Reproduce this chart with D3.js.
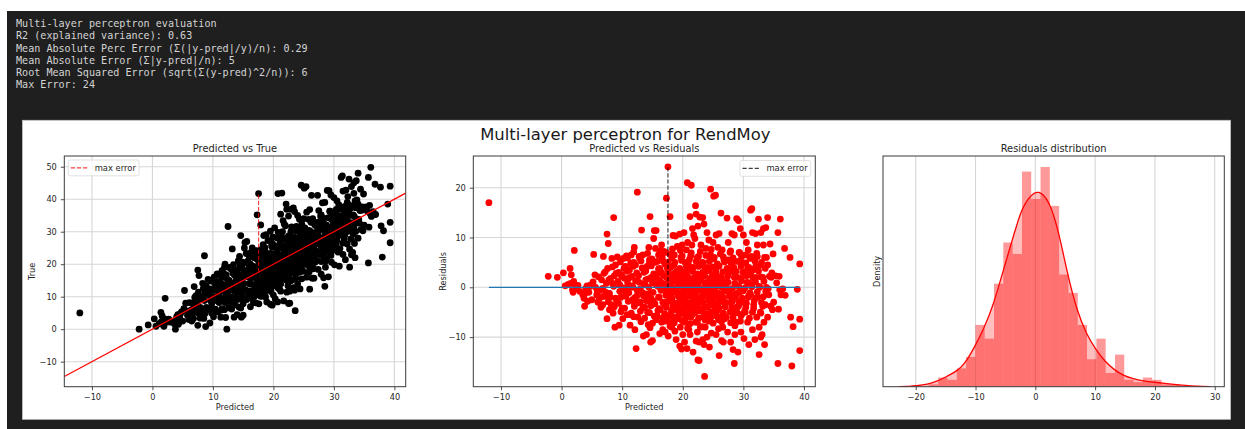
<!DOCTYPE html>
<html>
<head>
<meta charset="utf-8">
<script src="https://cdn.jsdelivr.net/npm/d3@7"></script>
<style>
  body { margin: 0; background: #ffffff; }
  svg { display: block; }
</style>
</head>
<body>
<svg id="fig" width="1245" height="429"></svg>
<script>
// ---- evaluation report printed above the figure ----
const reportLines = [
  "Multi-layer perceptron evaluation",
  "R2 (explained variance): 0.63",
  "Mean Absolute Perc Error (Σ(|y-pred|/y)/n): 0.29",
  "Mean Absolute Error (Σ|y-pred|/n): 5",
  "Root Mean Squared Error (sqrt(Σ(y-pred)^2/n)): 6",
  "Max Error: 24"
];

const figureTitle = "Multi-layer perceptron for RendMoy";
const panelTitles = ["Predicted vs True", "Predicted vs Residuals", "Residuals distribution"];

// ---- test-set predictions: [predicted, residual (true - predicted)] ----
const predResid = [
  [-12,17],[-2.2,2.2],[-0.7,2],[0.3,2.9],[0.6,0.3],[1.1,0.6],
  [1.4,3.8],[1.6,2.5],[1.5,0.8],[1.8,-0.5],[2,1.2],[2.1,7.4],[2.3,0.2],[2.5,-0.3],[2.7,0.4],[3,-0.8],[1.9,-1],
  [3.5,-1.5],[3.7,-2.2],[3.8,-3.8],[4,-0.2],[4.2,0.3],[4.5,-1],[4.8,0.5],[5,-2.5],[4.3,-2.8],[3.9,-1.2],
  [5.3,6.6],[5.5,2.5],[5.6,0],[5.8,-1.5],[6,-3],[6.2,-2.3],[6.4,-0.5],[6.6,1.5],[6.8,-3.5],[6.9,6.2],[7,2.8],[7.1,-1.8],[6.5,-4],
  [7.5,10.7],[7.7,8.8],[7.5,-6.3],[7.6,3.8],[7.8,1.5],[8,-2],[8.2,-3.5],[8.4,0.8],[8.6,14],[8.8,-8],[8.5,-5.2],[8.9,4.5],[7.3,-1],[8.3,5.8],[8.7,2.3],[7.9,-4.5],
  [9.5,-7.6],[9.2,6.1],[9.4,3],[9.6,0.5],[9.8,-2],[10,-4.2],[10.2,5.8],[10.4,1.8],[10.6,-1.2],[10.8,-5.5],[9.1,-3],[10.1,-6.3],[10.5,4.2],[9.9,2.5],[11,-0.3],[10.7,6.3],
  [12.5,19.1],[12,8],[11.5,6.5],[11.3,-7.6],[11.4,-5.5],[11.6,2.2],[11.8,0],[12,-3.5],[12.2,4.5],[12.4,-1.8],[12.3,-12.3],[12.6,-6],[12.8,1],[11.2,3.5],[11.7,-2.5],[12.9,5.8],[12.1,-8.5],[13,-3],[11.9,5],
  [13.2,11.5],[14.6,14.2],[13.5,-9.8],[13.4,6.5],[13.6,3],[13.8,0.5],[14,-2.2],[14.2,-5],[14.4,8],[13.3,-1],[14.1,4.2],[14.3,-7.5],[14.7,-11],[14.8,2],[14,-9.5],[13.7,-4],[14.9,-3.5],[14.5,5.5],[13.9,1.5],[14.6,-1.2],
  [15,-10.7],[15.3,11.4],[15.6,11.4],[15.2,9.8],[15.5,7.8],[15.4,5],[15.7,2.5],[15.9,0.2],[16.1,-2],[16.3,-4.5],[16.5,-7],[16.7,-8.5],[15.8,-5.8],[16,6.5],[16.2,3.8],[16.4,1],[16.6,-0.5],[16.8,5.2],[16.9,-3.3],[15.1,-2.8],[15.3,0.8],[16.5,8.5],[16.2,-9.3],[15.6,-6.5],[16.9,7.2],[17,0.5],
  [17.3,17.9],[17.55,24.2],[17.9,14.2],[17.2,7],[17.5,5],[17.7,2.5],[17.9,0.2],[18.1,-2.2],[18.3,-4.5],[18.5,-6.8],[18.7,-8.8],[18.9,-10.5],[17.4,-3],[17.6,-0.8],[17.8,-5.8],[18,4],[18.2,1.5],[18.4,-1],[18.6,6.5],[18.8,10.3],[18.4,10.4],[19,3.2],[19.2,-3.5],[17.1,-9],[17.6,-9.8],[18.2,-8],[18.6,-0.2],[18.9,-6],[19.1,8.2],[17.5,-6.8],[18.3,7.7],[19.2,0.8],[17.3,2],
  [19.8,-12.4],[20.7,-12.3],[19.5,-11.8],[20,-9.5],[20.4,-7],[19.4,-5.5],[19.6,-3],[19.8,-1],[20,1],[20.2,3],[20.4,5],[20.6,7.5],[20.8,9],[19.5,10.7],[20.2,11],[20.75,21],[19.7,6],[20.1,-4.8],[20.5,-2],[20.9,-0.2],[19.3,2],[20.3,-11],[21,4],[20.6,-5.5],[19.9,8.5],[19.6,-8],[21,-8.5],[20.8,1.8],[20,-2.5],[19.2,-1.5],[20.4,0],
  [21.4,20.5],[21.2,14.2],[22.1,16.4],[22.2,14.7],[22.8,14.1],[22.5,12.3],[21.8,10.5],[21.5,8.5],[22,9.8],[21.3,6.3],[21.7,4],[22.3,2.5],[22.6,6.2],[22.9,4.5],[21.1,1],[21.4,-1],[21.6,-3],[21.9,-5],[22.1,-7],[22.4,-9],[22.7,-11],[21.7,-13],[22.5,-14.6],[22.7,-14.7],[21.2,-9.5],[22,-1.5],[22.3,0.5],[22.8,-2.5],[22.5,-4.5],[21.3,-6],[22.9,-8],[21.9,2],[22.6,-0.5],[21,-3.8],[22.2,-10.8],[23,1.5],[21.6,11.8],
  [23.6,-17.9],[24.6,19.7],[23.3,14],[23.5,12.7],[24,11],[24.3,9.5],[23.8,7.8],[23.2,5],[23.5,3],[23.9,1],[24.2,-1],[24.5,-3],[24.8,-5],[23.4,-6],[23.7,-8],[24,-10],[24.4,-12],[24.7,-9.2],[23.1,-2],[23.6,-4],[24.9,2.5],[24.6,6.5],[23.3,-10.5],[24.2,4],[24.8,-0.5],[23,8.5],[25,9],[24.3,-6.8],[23.8,-1.5],[23.5,-11.5],
  [25.1,18.3],[25.4,18.5],[26.3,14.9],[25.5,10.5],[26,10.8],[25.8,8],[25.2,6],[25.6,4],[26.1,2],[26.5,0],[25.3,-2],[25.7,-4],[26.2,-6],[26.6,-8],[26,-13.7],[26.4,-10.7],[25.5,-9.5],[26.8,5.5],[26.9,-3],[25,1],[26.3,-1.5],[25.9,-6.5],[26.7,-11],[26.5,7.5],[25.4,3.2],[26.9,1],
  [27.3,13.9],[28.9,13.8],[28.1,10.8],[28.5,10.5],[27.5,9],[27.8,7],[28.2,5],[28.6,3],[27.2,1],[27.6,-1],[28,-3],[28.4,-5],[28.8,-7],[27.4,-9],[27.9,-11],[28.3,-12.5],[28.5,-15.3],[27.2,-6],[28.7,0.5],[28.1,-1.5],[27.7,3.5],[28.9,-4],[27,-3.5],[28.6,-9.5],[27.5,5.5],
  [29.2,13.4],[29.5,11.8],[30,10.5],[30.5,9],[29.3,7],[29.8,5],[30.2,3],[30.6,1],[29.4,-1],[29.9,-3],[30.3,-5],[30.7,-7],[29.6,-9],[30.1,-10.3],[29.1,-13],[30.9,4],[29,2],[30.8,-2],[29.7,-5.5],[30.4,6.5],[30.9,-11.5],[29.3,0],
  [31.2,15.5],[31.4,15.8],[32.5,13.7],[31.5,11],[32,10.8],[32.3,8.5],[31.3,6.2],[31.8,6],[32.3,6.2],[31.6,3.5],[32.1,2],[32.7,0],[31.2,-1.5],[31.7,-3.5],[32.2,-6],[32.6,-8],[32.9,-10],[32.6,-13.5],[31.5,-8.5],[31.1,2.5],[32.4,-2],[32.8,-5],[31.9,-10.5],[32.8,4.5],[31.4,0.5],
  [33.3,11.8],[33.7,12],[32.9,11],[34,14],[33.3,8.5],[34.4,8.7],[33.5,6],[34,4.5],[34.3,2.2],[33.2,2],[33.8,0],[34.2,-1.5],[33.6,-3.5],[34.5,-3.8],[34,-6],[33.4,-7],[34.8,-4.5],[33.1,-9.5],[34.6,2],[33.9,-1.2],[34.9,6.7],[33.5,-11.5],
  [35.7,11],[36.1,13.7],[36.8,7.8],[35.3,2.3],[35.5,0.9],[35.8,-4.4],[36.2,-1.5],[36.5,-0.3],[36.9,-1.6],[35.7,-15.3],[35,-3],[36,-0.5],
  [37.7,6],[39.3,4.7],[38.9,-0.4],[37.8,-6],[38.2,-7.9],[39.3,-6.4],[39.3,-12.7],[38,-15.8],
  // dense core of the cloud
  [11.9,7.1],[14.2,6.8],[16.3,7.3],[17.9,6.6],[19.6,7.4],[21.4,6.9],[22.9,7.2],[24.7,7.6],[26.2,6.7],[27.9,7.3],[29.4,6.9],[30.8,7.5],[32.2,6.8],
  [10.9,5.9],[12.8,6.2],[14.9,5.7],[16.6,6.1],[18.2,5.8],[19.9,6.3],[21.1,5.6],[22.4,6.0],[23.8,6.4],[25.1,5.7],[26.7,6.1],[28.3,5.9],[29.7,6.2],[31.1,5.8],[33.8,6.0],
  [9.7,5.1],[11.4,4.8],[13.1,5.3],[14.5,4.9],[15.8,5.2],[17.1,4.7],[18.7,5.0],[19.8,5.4],[20.9,4.8],[22.2,5.2],[23.4,4.9],[24.4,5.3],[25.7,4.7],[26.9,5.1],[28.0,4.8],[29.1,5.2],[30.4,4.9],[31.9,5.3],[33.0,5.0],
  [8.4,4.1],[10.3,3.8],[11.8,4.2],[13.3,3.9],[14.8,4.3],[16.0,3.7],[17.4,4.0],[18.5,4.4],[19.5,3.8],[20.6,4.1],[21.5,3.9],[22.6,4.2],[23.7,3.7],[24.9,4.1],[26.0,4.3],[27.3,3.8],[28.4,4.0],[29.6,4.2],[30.7,3.9],[32.0,4.1],[33.6,3.8],
  [7.2,3.1],[9.0,2.8],[10.8,3.2],[12.4,2.9],[13.9,3.3],[15.2,2.7],[16.5,3.0],[17.6,3.4],[18.6,2.8],[19.7,3.1],[20.6,2.9],[21.6,3.2],[22.4,2.7],[23.3,3.0],[24.3,3.3],[25.5,2.8],[26.6,3.1],[27.6,2.9],[28.8,3.2],[29.9,3.0],[31.2,2.8],[32.5,3.3],[34.7,2.9],
  [6.1,2.1],[8.1,1.8],[9.9,2.2],[11.2,1.9],[12.7,2.3],[14.3,1.7],[15.6,2.0],[16.8,2.4],[17.9,1.8],[18.9,2.1],[19.9,1.9],[20.8,2.2],[21.7,1.7],[22.7,2.0],[23.6,2.3],[24.5,1.8],[25.4,2.1],[26.4,1.9],[27.4,2.2],[28.5,2.0],[29.6,1.8],[30.5,2.3],[31.6,1.9],[32.9,2.1],[35.9,2.2],
  [5.2,1.1],[7.4,0.8],[9.3,1.2],[10.9,0.9],[12.2,1.3],[13.6,0.7],[15.0,1.0],[16.2,1.4],[17.3,0.8],[18.3,1.1],[19.2,0.9],[20.1,1.2],[21.0,0.7],[21.9,1.0],[22.8,1.3],[23.7,0.8],[24.6,1.1],[25.6,0.9],[26.5,1.2],[27.5,1.0],[28.6,0.8],[29.7,1.3],[30.9,0.9],[32.0,1.1],[33.4,1.2],
  [4.6,0.1],[6.8,-0.2],[8.6,0.2],[10.2,-0.1],[11.6,0.3],[13.0,-0.3],[14.4,0.0],[15.7,0.4],[16.9,-0.2],[18.0,0.1],[19.0,-0.1],[19.9,0.2],[20.9,-0.3],[21.8,0.0],[22.6,0.3],[23.5,-0.2],[24.4,0.1],[25.3,-0.1],[26.2,0.2],[27.2,0.0],[28.2,-0.2],[29.2,0.3],[30.3,-0.1],[31.4,0.1],[32.6,0.2],[34.1,-0.3],
  [5.9,-0.9],[7.9,-1.2],[9.6,-0.8],[11.1,-1.1],[12.5,-0.7],[13.8,-1.3],[15.1,-1.0],[16.4,-0.6],[17.5,-1.2],[18.5,-0.9],[19.5,-1.1],[20.4,-0.8],[21.3,-1.3],[22.2,-1.0],[23.1,-0.7],[24.0,-1.2],[24.9,-0.9],[25.8,-1.1],[26.8,-0.8],[27.8,-1.0],[28.9,-1.2],[30.0,-0.7],[31.1,-1.1],[32.3,-0.9],[33.7,-0.8],
  [6.6,-1.9],[8.9,-2.2],[10.6,-1.8],[12.1,-2.1],[13.5,-1.7],[14.8,-2.3],[16.0,-2.0],[17.2,-1.6],[18.2,-2.2],[19.3,-1.9],[20.3,-2.1],[21.2,-1.8],[22.1,-2.3],[23.0,-2.0],[23.9,-1.7],[24.8,-2.2],[25.7,-1.9],[26.7,-2.1],[27.7,-1.8],[28.7,-2.0],[29.8,-2.2],[30.9,-1.7],[32.1,-2.1],[33.3,-1.9],
  [7.7,-2.9],[9.4,-3.2],[11.0,-2.8],[12.6,-3.1],[14.0,-2.7],[15.4,-3.3],[16.7,-3.0],[17.8,-2.6],[18.8,-3.2],[19.8,-2.9],[20.7,-3.1],[21.6,-2.8],[22.5,-3.3],[23.4,-3.0],[24.3,-2.7],[25.2,-3.2],[26.1,-2.9],[27.1,-3.1],[28.2,-2.8],[29.3,-3.0],[30.5,-3.2],[31.8,-2.7],[33.0,-3.1],
  [8.7,-3.9],[10.4,-4.2],[12.0,-3.8],[13.4,-4.1],[14.7,-3.7],[16.1,-4.3],[17.3,-4.0],[18.4,-3.6],[19.4,-4.2],[20.4,-3.9],[21.4,-4.1],[22.3,-3.8],[23.2,-4.3],[24.1,-4.0],[25.1,-3.7],[26.0,-4.2],[27.0,-3.9],[28.1,-4.1],[29.2,-3.8],[30.4,-4.0],[31.7,-4.2],[33.2,-3.8],
  [9.8,-4.9],[11.5,-5.2],[13.0,-4.8],[14.5,-5.1],[15.9,-4.7],[17.0,-5.3],[18.1,-5.0],[19.1,-4.6],[20.2,-5.2],[21.1,-4.9],[22.0,-5.1],[22.9,-4.8],[23.8,-5.3],[24.7,-5.0],[25.7,-4.7],[26.7,-5.2],[27.8,-4.9],[29.0,-5.1],[30.2,-4.8],[31.5,-5.0],[32.9,-5.2],
  [11.9,-5.9],[13.7,-6.2],[15.3,-5.8],[16.8,-6.1],[18.0,-5.7],[19.2,-6.3],[20.5,-6.0],[21.5,-5.6],[22.6,-6.2],[23.6,-5.9],[24.6,-6.1],[25.6,-5.8],[26.9,-6.3],[28.3,-6.0],[29.6,-5.7],[31.0,-6.2],
  [13.1,-6.9],[15.0,-7.2],[16.9,-6.8],[18.6,-7.1],[19.9,-6.7],[21.2,-7.3],[22.4,-7.0],[23.7,-6.6],[25.0,-7.2],[26.4,-6.9],[27.9,-7.1],[29.5,-6.8],
  [14.6,-8.1],[17.9,-7.8],[20.8,-8.2],[23.1,-7.9],[25.9,-8.3],[28.6,-7.7]
];

// ---- residual histogram (27 equal bins) and its kernel density estimate ----
const residBinStart = -17.8;
const residBinWidth = 1.556;
const residBinCounts = [1,4,3,8,13,27,21,45,63,58,94,82,96,79,49,41,27,12,21,6,14,3,2,4,3,1,1];
const kdeX = [-22.8,-21,-20,-18,-16.5,-15,-13.5,-12.5,-11.5,-10.25,-8.7,-7.1,-5.5,-3.85,-2.3,-0.77,0.5,2.3,3.85,5.35,6.9,8.6,10.15,11.65,13.2,14.7,16.4,18,20,22,24,26,28,29.3];
const kdeDensity = [0.00004,0.00014,0.00028,0.0008,0.0019,0.0035,0.0052,0.0068,0.0093,0.0140,0.0205,0.0289,0.0409,0.0530,0.0644,0.0692,0.0710,0.0674,0.0566,0.0409,0.0277,0.0187,0.0132,0.0091,0.0061,0.0040,0.0028,0.0021,0.0016,0.0011,0.00065,0.00029,0.00011,0.00004];

// axis ticks
const predTicks = [-10, 0, 10, 20, 30, 40];
const trueTicks = [-10, 0, 10, 20, 30, 40, 50];
const residTicks = [-10, 0, 10, 20];
const distTicks = [-20, -10, 0, 10, 20, 30];

// ---------------------------------------------------------------
const svg = d3.select("#fig");
const FONT = "'DejaVu Sans', Verdana, sans-serif";
const MONO = "'DejaVu Sans Mono', 'Liberation Mono', monospace";
const INK = "#262626";
const DOT_R = 3.4;

const records = predResid.map(([p, r]) => ({ pred: p, resid: r, truth: p + r }));

// notebook output cell
svg.append("rect")
  .attr("x", 7).attr("y", 11).attr("width", 1238).attr("height", 418)
  .attr("fill", "#1f1f1f");

svg.append("g").selectAll("text").data(reportLines).join("text")
  .attr("x", 16).attr("y", (d, i) => 27.3 + i * 12.1)
  .attr("fill", "#d4d4d4")
  .style("font-family", MONO).style("font-size", "10.1px")
  .style("white-space", "pre")
  .text(d => d);

// figure canvas
svg.append("rect")
  .attr("x", 22.5).attr("y", 120.3).attr("width", 1208).attr("height", 299)
  .attr("fill", "#ffffff").attr("stroke", "#c6c6c6").attr("stroke-width", 0.8);

svg.append("text")
  .attr("x", 625.3).attr("y", 140)
  .attr("text-anchor", "middle")
  .attr("fill", "#1a1a1a")
  .style("font-family", FONT).style("font-size", "16.4px")
  .text(figureTitle);

let clipCount = 0;
function makePanel(box, xDomain, yDomain, cfg) {
  const x = d3.scaleLinear().domain(xDomain).range([box.left, box.right]);
  const y = d3.scaleLinear().domain(yDomain).range([box.bottom, box.top]);
  const root = svg.append("g");
  const clipId = "clip" + (clipCount++);
  root.append("clipPath").attr("id", clipId).append("rect")
    .attr("x", box.left).attr("y", box.top)
    .attr("width", box.right - box.left).attr("height", box.bottom - box.top);

  const grid = root.append("g");
  grid.selectAll("line.vx").data(cfg.xTicks).join("line")
    .attr("x1", d => x(d)).attr("x2", d => x(d))
    .attr("y1", box.top).attr("y2", box.bottom)
    .attr("stroke", "#d6d6d6").attr("stroke-width", 1.1);
  if (cfg.yTicks && cfg.yGrid) {
    grid.selectAll("line.hy").data(cfg.yTicks).join("line")
      .attr("x1", box.left).attr("x2", box.right)
      .attr("y1", d => y(d)).attr("y2", d => y(d))
      .attr("stroke", "#d6d6d6").attr("stroke-width", 1.1);
  }

  const plot = root.append("g").attr("clip-path", `url(#${clipId})`);

  function finish() {
    const frame = root.append("g");
    frame.append("rect")
      .attr("x", box.left).attr("y", box.top)
      .attr("width", box.right - box.left).attr("height", box.bottom - box.top)
      .attr("fill", "none").attr("stroke", "#3a3a3a").attr("stroke-width", 1);

    const xa = frame.append("g").attr("transform", `translate(0,${box.bottom})`)
      .call(d3.axisBottom(x).tickValues(cfg.xTicks).tickSize(3.5).tickPadding(4).tickFormat(d3.format("d")));
    styleAxis(xa);
    if (cfg.yTicks) {
      const ya = frame.append("g").attr("transform", `translate(${box.left},0)`)
        .call(d3.axisLeft(y).tickValues(cfg.yTicks).tickSize(3.5).tickPadding(4).tickFormat(d3.format("d")));
      styleAxis(ya);
    }

    frame.append("text")
      .attr("x", (box.left + box.right) / 2).attr("y", 151.5)
      .attr("text-anchor", "middle").attr("fill", INK)
      .style("font-family", FONT).style("font-size", "9.85px")
      .text(cfg.title);

    if (cfg.xLabel) {
      frame.append("text")
        .attr("x", (box.left + box.right) / 2).attr("y", 410)
        .attr("text-anchor", "middle").attr("fill", INK)
        .style("font-family", FONT).style("font-size", "8.2px")
        .text(cfg.xLabel);
    }
    if (cfg.yLabel) {
      const cy = (box.top + box.bottom) / 2;
      frame.append("text")
        .attr("transform", `translate(${cfg.yLabelX},${cy}) rotate(-90)`)
        .attr("text-anchor", "middle").attr("fill", INK)
        .style("font-family", FONT).style("font-size", "8.2px")
        .text(cfg.yLabel);
    }
    return frame;
  }
  return { x, y, plot, finish, box };
}

function styleAxis(sel) {
  sel.select(".domain").remove();
  sel.selectAll(".tick line").attr("stroke", "#3a3a3a").attr("stroke-width", 0.9);
  sel.selectAll(".tick text").attr("fill", INK)
    .style("font-family", FONT).style("font-size", "8.2px");
}

function addLegend(parent, x0, y0, color, label) {
  const g = parent.append("g");
  g.append("rect")
    .attr("x", x0).attr("y", y0).attr("width", 70.7).attr("height", 15.8).attr("rx", 2)
    .attr("fill", "#ffffff").attr("fill-opacity", 0.8)
    .attr("stroke", "#d9d9d9").attr("stroke-width", 0.8);
  g.append("line")
    .attr("x1", x0 + 2.5).attr("x2", x0 + 20.2)
    .attr("y1", y0 + 7.8).attr("y2", y0 + 7.8)
    .attr("stroke", color).attr("stroke-opacity", 0.75)
    .attr("stroke-width", 1.2).attr("stroke-dasharray", "4.2,1.9");
  g.append("text")
    .attr("x", x0 + 26.4).attr("y", y0 + 10.9)
    .attr("fill", INK)
    .style("font-family", FONT).style("font-size", "8.4px")
    .text(label);
}

const worst = d3.greatest(records, d => Math.abs(d.resid));
const predExtent = d3.extent(records, d => d.pred);

// ---- panel 1: predicted vs true ----
const p1 = makePanel({ left: 64.3, right: 405.7, top: 156, bottom: 386.7 },
  [-14.57, 41.87], [-17.7, 53.3],
  { xTicks: predTicks, yTicks: trueTicks, yGrid: true, title: panelTitles[0],
    xLabel: "Predicted", yLabel: "True", yLabelX: 35.4 });

p1.plot.selectAll("circle").data(records).join("circle")
  .attr("cx", d => p1.x(d.pred)).attr("cy", d => p1.y(d.truth))
  .attr("r", DOT_R).attr("fill", "#000000");

const identity = p1.x.domain();
p1.plot.append("line")
  .attr("x1", p1.x(identity[0])).attr("y1", p1.y(identity[0]))
  .attr("x2", p1.x(identity[1])).attr("y2", p1.y(identity[1]))
  .attr("stroke", "#ff0000").attr("stroke-width", 1.2);

p1.plot.append("line")
  .attr("x1", p1.x(worst.pred)).attr("x2", p1.x(worst.pred))
  .attr("y1", p1.y(worst.pred)).attr("y2", p1.y(worst.truth))
  .attr("stroke", "#ff0000").attr("stroke-opacity", 0.75)
  .attr("stroke-width", 1.2).attr("stroke-dasharray", "4.2,1.9");

const f1 = p1.finish();
addLegend(f1, 68.3, 160, "#ff0000", "max error");

// ---- panel 2: predicted vs residuals ----
const p2 = makePanel({ left: 473.3, right: 815.3, top: 156, bottom: 386.7 },
  [-14.57, 41.87], [-19.96, 26.37],
  { xTicks: predTicks, yTicks: residTicks, yGrid: true, title: panelTitles[1],
    xLabel: "Predicted", yLabel: "Residuals", yLabelX: 445.6 });

p2.plot.selectAll("circle").data(records).join("circle")
  .attr("cx", d => p2.x(d.pred)).attr("cy", d => p2.y(d.resid))
  .attr("r", DOT_R).attr("fill", "#ff0000");

p2.plot.append("line")
  .attr("x1", p2.x(predExtent[0])).attr("x2", p2.x(predExtent[1]))
  .attr("y1", p2.y(0)).attr("y2", p2.y(0))
  .attr("stroke", "#1f77b4").attr("stroke-width", 1.3);

p2.plot.append("line")
  .attr("x1", p2.x(worst.pred)).attr("x2", p2.x(worst.pred))
  .attr("y1", p2.y(0)).attr("y2", p2.y(worst.resid))
  .attr("stroke", "#000000").attr("stroke-opacity", 0.75)
  .attr("stroke-width", 1.2).attr("stroke-dasharray", "4.2,1.9");

const f2 = p2.finish();
addLegend(f2, 740, 160.5, "#000000", "max error");

// ---- panel 3: residual distribution ----
const total = d3.sum(residBinCounts);
const bins = residBinCounts.map((c, i) => ({
  x0: residBinStart + i * residBinWidth,
  x1: residBinStart + (i + 1) * residBinWidth,
  density: c / (total * residBinWidth)
}));
const densMax = d3.max(bins, d => d.density);

const p3 = makePanel({ left: 883, right: 1224.3, top: 156, bottom: 386.7 },
  [-25.47, 31.6], [0, densMax * 1.05],
  { xTicks: distTicks, yTicks: null, title: panelTitles[2],
    yLabel: "Density", yLabelX: 880 });

p3.plot.selectAll("rect").data(bins).join("rect")
  .attr("x", d => p3.x(d.x0)).attr("width", d => p3.x(d.x1) - p3.x(d.x0))
  .attr("y", d => p3.y(d.density)).attr("height", d => p3.y(0) - p3.y(d.density))
  .attr("fill", "#ff0000").attr("fill-opacity", 0.4);

const kde = kdeX.map((v, i) => [v, kdeDensity[i]]);
p3.plot.append("path").datum(kde)
  .attr("d", d3.area().x(d => p3.x(d[0])).y0(p3.y(0)).y1(d => p3.y(d[1])).curve(d3.curveBasis))
  .attr("fill", "#ff0000").attr("fill-opacity", 0.25);
p3.plot.append("path").datum(kde)
  .attr("d", d3.line().x(d => p3.x(d[0])).y(d => p3.y(d[1])).curve(d3.curveBasis))
  .attr("fill", "none").attr("stroke", "#ff0000").attr("stroke-width", 1.3);

p3.finish();
</script>
</body>
</html>
